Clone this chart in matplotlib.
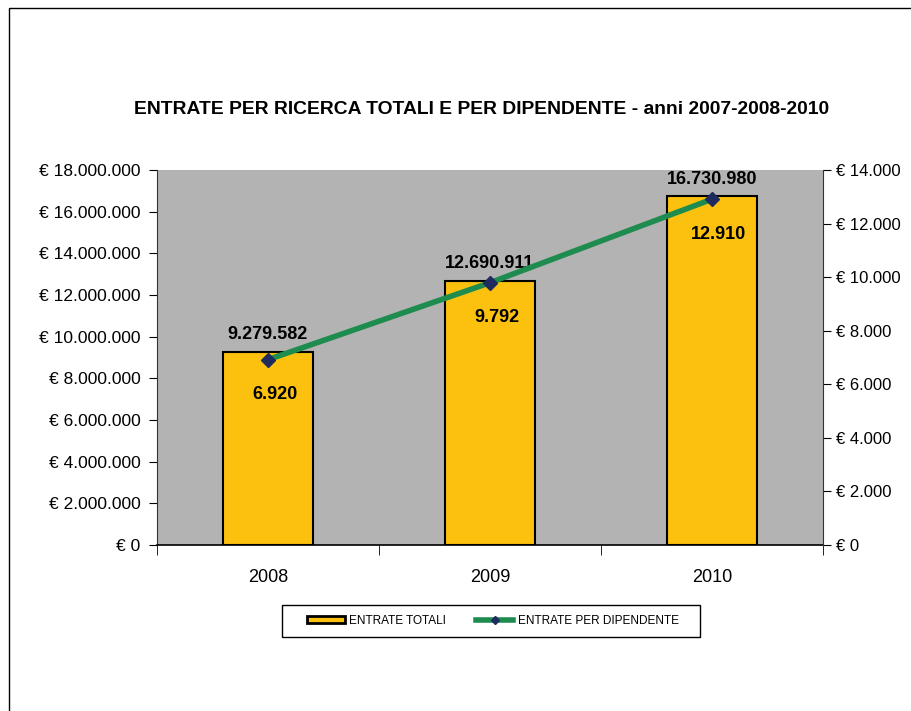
import matplotlib.pyplot as plt
from matplotlib.patches import Rectangle, Patch
from matplotlib.lines import Line2D
from matplotlib.ticker import FuncFormatter

plt.rcParams['font.family'] = ['Liberation Sans', 'DejaVu Sans']

# data
anni = ['2008', '2009', '2010']
entrate_totali = [9279582, 12690911, 16730980]
entrate_dipendente = [6920, 9792, 12910]


def euro(v, pos=None):
    s = f'{int(round(v)):,}'.replace(',', '.')
    return f'€ {s}'


fig = plt.figure(figsize=(9.11, 7.11), dpi=100)

# outer frame (runs off the right and bottom edge)
fig.patches.append(Rectangle((9 / 911, -0.1), 1.2, 1 - 8 / 711 + 0.1,
                             transform=fig.transFigure, fill=False,
                             edgecolor='black', linewidth=1))

ax = fig.add_axes([157 / 911, 1 - 545 / 711, 666 / 911, 375 / 711])
ax.set_facecolor('#b3b3b3')
x = list(range(len(anni)))
bars = ax.bar(x, entrate_totali, width=0.405, color='#fbc10e',
              edgecolor='black', linewidth=1.5, zorder=2)
ax.set_xlim(-0.5, 2.5)
ax.set_ylim(0, 18000000)
ax.set_yticks(range(0, 18000001, 2000000))
ax.yaxis.set_major_formatter(FuncFormatter(euro))
ax.set_xticks(x)
ax.set_xticklabels(anni, fontsize=13)
ax.set_xticks([-0.5, 0.5, 1.5, 2.5], minor=True)
ax.tick_params(axis='x', which='major', length=0, pad=17)
ax.tick_params(axis='x', which='minor', length=7, direction='out')
ax.tick_params(axis='y', labelsize=12.5, length=6, pad=6, direction='out')
for side in ['top', 'right']:
    ax.spines[side].set_visible(False)
ax.spines['left'].set_color('#333333')
ax.spines['bottom'].set_linewidth(1.2)

for xi, v in zip(x, entrate_totali):
    ax.text(xi, v + 420000, f'{v:,}'.replace(',', '.'), ha='center',
            va='bottom', fontsize=13, fontweight='bold', zorder=5)

ax2 = ax.twinx()
ax2.set_ylim(0, 14000)
ax2.set_yticks(range(0, 14001, 2000))
ax2.yaxis.set_major_formatter(FuncFormatter(euro))
ax2.tick_params(axis='y', labelsize=12, length=6, direction='out')
for side in ['top', 'left', 'bottom']:
    ax2.spines[side].set_visible(False)
ax2.spines['right'].set_color('#333333')
ax2.plot(x, entrate_dipendente, color='#1f8c4f', linewidth=4,
         marker='D', markersize=7, markerfacecolor='#1f2a5e',
         markeredgecolor='#1f2a5e', zorder=4)
for xi, v in zip(x, entrate_dipendente):
    ax2.text(xi + 0.03, v - 1000, f'{v:,}'.replace(',', '.'), ha='center',
             va='top', fontsize=13, fontweight='bold', zorder=5)

fig.suptitle('ENTRATE PER RICERCA TOTALI E PER DIPENDENTE - anni 2007-2008-2010',
             x=482 / 911, y=1 - 110 / 711, va='center', fontsize=13.9,
             fontweight='bold')

# legend with a hand-placed frame
fig.patches.append(Rectangle((282 / 911, 1 - 637 / 711), 418 / 911, 32 / 711,
                             transform=fig.transFigure, fill=True,
                             facecolor='white', edgecolor='black',
                             linewidth=1, zorder=1))
h_bar = Patch(facecolor='#fbc10e', edgecolor='black', linewidth=2)
h_line = Line2D([], [], color='#1f8c4f', linewidth=4, marker='D',
                markersize=4, markerfacecolor='#1f2a5e',
                markeredgecolor='#1f2a5e')
leg = fig.legend([h_bar, h_line], ['ENTRATE TOTALI', 'ENTRATE PER DIPENDENTE'],
                 loc='center', bbox_to_anchor=(493 / 911, 1 - 621 / 711),
                 ncol=2, fontsize=8.5, frameon=False, handlelength=3.2,
                 handleheight=0.55, handletextpad=0.35, columnspacing=2.5,
                 borderpad=0, borderaxespad=0)
leg.set_zorder(3)

fig.savefig('out.png', dpi=100)
